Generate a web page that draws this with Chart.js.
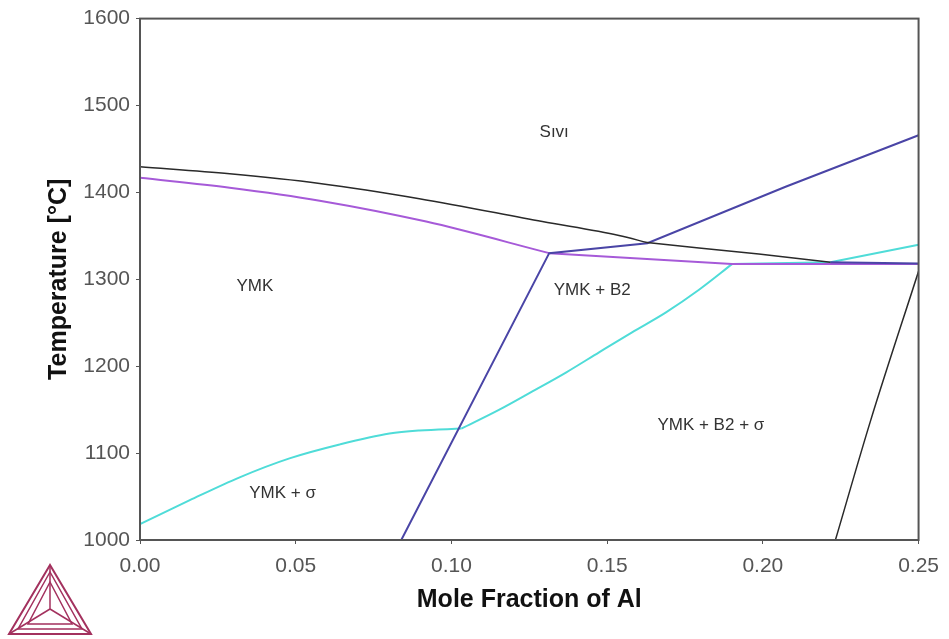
<!DOCTYPE html>
<html lang="tr">
<head>
<meta charset="UTF-8">
<title>Phase diagram</title>
<script src="https://cdn.jsdelivr.net/npm/chart.js@4.4.1/dist/chart.umd.min.js"></script>
<style>
  body { margin: 0; background: #fff; }
</style>
</head>
<body>
<canvas id="chart" width="949" height="639"></canvas>
<script>
// mole fraction Al / temperature (°C)
var blackAX = [0, 0.0288, 0.0577, 0.0897, 0.1292, 0.1538, 0.1628];
var blackAT = [1429.4, 1421.4, 1410.3, 1392.8, 1366.4, 1350.4, 1342.3];
var blackBX = [0.1628, 0.1795, 0.1987, 0.2217];
var blackBT = [1342.3, 1336.1, 1329.2, 1319.5];
var blackRX = [0.2233, 0.2346, 0.25];
var blackRT = [1000, 1137.4, 1309.2];

var blueX = [0.0839, 0.1314, 0.1629, 0.2073, 0.25];
var blueT = [1000, 1330.1, 1341.6, 1406.5, 1465.7];
var blueHX = [0.2217, 0.25];
var blueHT = [1319.5, 1318.3];

var purpleAX = [0, 0.0288, 0.0577, 0.0919, 0.1314];
var purpleAT = [1416.8, 1405.4, 1390.5, 1366.4, 1330.1];
var purpleBX = [0.1314, 0.1901, 0.25];
var purpleBT = [1330.1, 1317.5, 1317.5];

var cyanAX = [0, 0.016, 0.032, 0.048, 0.0641, 0.0801, 0.0897, 0.1032];
var cyanAT = [1018.3, 1045.8, 1072.1, 1093.9, 1109.9, 1122.5, 1126, 1128.2];
var cyanBX = [0.1032, 0.1154, 0.1260, 0.1369, 0.1474, 0.1580, 0.1689, 0.1795, 0.1901];
var cyanBT = [1128.2, 1150, 1171, 1193, 1216, 1239, 1262, 1288, 1317.5];
var cyanCX = [0.1901, 0.2217, 0.25];
var cyanCT = [1317.5, 1319.5, 1339.7];

var regionNames = ['Sıvı', 'YMK', 'YMK + B2', 'YMK + B2 + σ', 'YMK + σ'];
var regionX = [0.133, 0.0369, 0.1452, 0.1833, 0.0458];
var regionT = [1469.5, 1292, 1287.4, 1131.7, 1053.8];

var xTicks = [0, 0.05, 0.10, 0.15, 0.20, 0.25];
var yTicks = [1000, 1100, 1200, 1300, 1400, 1500, 1600];

var FONT = "'Liberation Sans', Arial, sans-serif";

function pts(xs, ys) {
    return xs.map(function (x, i) { return { x: x, y: ys[i] }; });
}

function line(xs, ys, color, width, smooth) {
    return {
        data: pts(xs, ys),
        borderColor: color,
        borderWidth: width,
        showLine: true,
        pointRadius: 0,
        fill: false,
        cubicInterpolationMode: smooth ? 'monotone' : 'default',
        tension: 0
    };
}

var black = '#2a2a2a', blue = '#4a45a6', purple = '#a65ad8', cyan = '#4fdcd8';

// the frame on top and right + region labels + logo
var extras = {
    id: 'extras',
    afterDatasetsDraw: function (chart) {
        var ctx = chart.ctx, a = chart.chartArea;
        var xs = chart.scales.x, ys = chart.scales.y;
        ctx.save();
        ctx.strokeStyle = '#555';
        ctx.lineWidth = 2;
        ctx.strokeRect(a.left, a.top, a.right - a.left, a.bottom - a.top);

        ctx.fillStyle = '#333';
        ctx.font = '17px ' + FONT;
        ctx.textAlign = 'center';
        ctx.textBaseline = 'middle';
        regionNames.forEach(function (n, i) {
            ctx.fillText(n, xs.getPixelForValue(regionX[i]), ys.getPixelForValue(regionT[i]));
        });

        // Thermo-Calc style triangle logo
        ctx.strokeStyle = '#a3315e';
        ctx.lineWidth = 2;
        var tri = function (p) {
            ctx.beginPath();
            ctx.moveTo(p[0], p[1]); ctx.lineTo(p[2], p[3]); ctx.lineTo(p[4], p[5]);
            ctx.closePath(); ctx.stroke();
        };
        tri([50, 565, 9, 634, 91, 634]);
        ctx.lineWidth = 1.5;
        tri([50, 572, 18, 629, 82, 629]);
        var c = [50, 609];
        [[50, 565], [9, 634], [91, 634]].forEach(function (v) {
            ctx.beginPath(); ctx.moveTo(c[0], c[1]); ctx.lineTo(v[0], v[1]); ctx.stroke();
        });
        tri([50, 582, 28, 624, 72, 624]);
        ctx.restore();
    }
};

var chart = new Chart(document.getElementById('chart'), {
    type: 'scatter',
    data: {
        datasets: [
            line(blackAX, blackAT, black, 1.5, true),
            line(blackBX, blackBT, black, 1.5, false),
            line(blackRX, blackRT, black, 1.5, true),
            line(blueX, blueT, blue, 2, false),
            line(blueHX, blueHT, blue, 2, false),
            line(purpleAX, purpleAT, purple, 2, true),
            line(purpleBX, purpleBT, purple, 2, false),
            line(cyanAX, cyanAT, cyan, 2, true),
            line(cyanBX, cyanBT, cyan, 2, true),
            line(cyanCX, cyanCT, cyan, 2, false)
        ]
    },
    options: {
        responsive: false,
        animation: false,
        layout: { padding: { top: 16, right: 29, bottom: 0, left: 0 } },
        plugins: { legend: { display: false }, tooltip: { enabled: false } },
        scales: {
            x: {
                type: 'linear',
                min: 0, max: 0.25,
                afterFit: function (s) { s.height = 99; },
                afterBuildTicks: function (s) { s.ticks = xTicks.map(function (v) { return { value: v }; }); },
                ticks: {
                    color: '#555',
                    font: { family: FONT, size: 21 },
                    padding: 10,
                    maxRotation: 0,
                    callback: function (v) { return Number(v).toFixed(2); }
                },
                grid: { drawOnChartArea: false, drawTicks: true, tickLength: 4, color: '#555' },
                border: { display: true, color: '#555', width: 2 },
                title: {
                    display: true,
                    text: 'Mole Fraction of Al',
                    color: '#111',
                    font: { family: FONT, size: 25, weight: 'bold' },
                    padding: { top: 0, bottom: 24 }
                }
            },
            y: {
                min: 1000, max: 1600,
                afterFit: function (s) { s.width = 140; },
                afterBuildTicks: function (s) { s.ticks = yTicks.map(function (v) { return { value: v }; }); },
                ticks: {
                    color: '#555',
                    font: { family: FONT, size: 21 },
                    padding: 6,
                    callback: function (v) { return String(v); }
                },
                grid: { drawOnChartArea: false, drawTicks: true, tickLength: 4, color: '#555' },
                border: { display: true, color: '#555', width: 2 },
                title: {
                    display: true,
                    text: 'Temperature [°C]',
                    color: '#111',
                    font: { family: FONT, size: 25, weight: 'bold' },
                    padding: { top: 44, bottom: 0 }
                }
            }
        }
    },
    plugins: [extras]
});
</script>
</body>
</html>
